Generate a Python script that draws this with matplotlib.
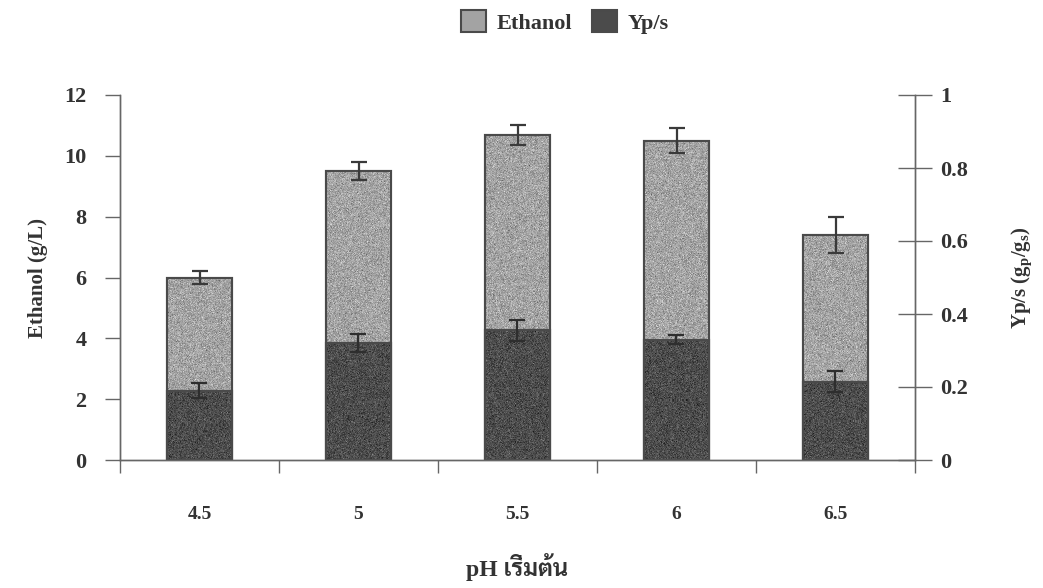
import matplotlib
matplotlib.use("Agg")
import matplotlib.pyplot as plt
import numpy as np

# Initial pH of the fermentation and the measured responses
ph_labels = ["4.5", "5", "5.5", "6", "6.5"]
ethanol = [6.0, 9.5, 10.7, 10.5, 7.4]          # g/L
ethanol_err = [0.2, 0.3, 0.33, 0.4, 0.6]
yps = [0.19, 0.32, 0.355, 0.33, 0.215]         # g_p/g_s
yps_err = [0.02, 0.025, 0.028, 0.013, 0.03]

serif = ["Liberation Serif", "Sarabun", "Noto Sans Thai", "DejaVu Sans"]
plt.rcParams["font.family"] = serif
plt.rcParams["font.weight"] = "bold"
plt.rcParams["axes.labelweight"] = "bold"
plt.rcParams["mathtext.fontset"] = "custom"
plt.rcParams["mathtext.rm"] = "Liberation Serif:bold"
plt.rcParams["mathtext.it"] = "Liberation Serif:bold"
plt.rcParams["mathtext.bf"] = "Liberation Serif:bold"

text_col = "#333333"
axis_col = "#666666"
light = "#a3a3a3"
dark = "#4b4b4b"
edge = "#4a4a4a"

fig = plt.figure(figsize=(10.43, 5.88), dpi=100)
ax = fig.add_axes([120 / 1043, 1 - 460 / 588, 795 / 1043, 365 / 588])
ax2 = ax.twinx()

x = np.arange(len(ph_labels)) + 0.5
w = 0.41
rng = np.random.default_rng(7)


def stipple(axis, bars, base, spread, ymax):
    """Fill each bar with a fine speckled grey texture clipped to its outline."""
    for p in bars.patches:
        x0, y0 = p.get_x(), p.get_y()
        bw, bh = p.get_width(), p.get_height()
        rows = max(int(bh / ymax * 365), 2)
        grain = np.clip(rng.normal(base, spread, (rows, 66)), 0, 1)
        im = axis.imshow(grain, cmap="gray", vmin=0, vmax=1, aspect="auto",
                         extent=(x0, x0 + bw, y0, y0 + bh), interpolation="nearest",
                         zorder=2.05)
        im.set_clip_path(p)


b1 = ax.bar(x, ethanol, w, color=light, edgecolor=edge, linewidth=1.5, zorder=2,
            label="Ethanol")
stipple(ax, b1, 0.64, 0.07, 12)
ax.bar(x, ethanol, w, color="none", edgecolor=edge, linewidth=1.5, zorder=2.1)
ax.errorbar(x, ethanol, yerr=ethanol_err, fmt="none", ecolor="#3a3a3a",
            elinewidth=1.6, capsize=6, capthick=1.6, zorder=3)

b2 = ax2.bar(x, yps, w, color=dark, edgecolor=edge, linewidth=1.5, zorder=2,
             label="Yp/s")
stipple(ax2, b2, 0.30, 0.06, 1)
ax2.bar(x, yps, w, color="none", edgecolor=edge, linewidth=1.5, zorder=2.1)
ax2.errorbar(x, yps, yerr=yps_err, fmt="none", ecolor="#2e2e2e",
             elinewidth=1.6, capsize=6, capthick=1.6, zorder=3)

ax.set_xlim(0, len(ph_labels))
ax.set_ylim(0, 12)
ax2.set_ylim(0, 1)
ax.set_yticks(np.arange(0, 13, 2))
ax2.set_yticks([0, 0.2, 0.4, 0.6, 0.8, 1.0])
ax2.set_yticklabels(["0", "0.2", "0.4", "0.6", "0.8", "1"])

# category boundaries get ticks, category centres get labels
ax.set_xticks(np.arange(0, len(ph_labels) + 1))
ax.set_xticklabels([])
ax.set_xticks(x, minor=True)
ax.set_xticklabels(ph_labels, minor=True)
ax.tick_params(axis="x", which="major", direction="out", length=9, width=1, color=axis_col)
ax.tick_params(axis="x", which="minor", length=0, pad=33, labelsize=14, labelcolor=text_col)
ax.tick_params(axis="y", direction="out", length=11, width=1, color=axis_col,
               labelsize=16, labelcolor=text_col, pad=13)
ax2.tick_params(axis="y", direction="inout", length=24, width=1, color=axis_col,
                labelsize=16, labelcolor=text_col, pad=6)

for a in (ax, ax2):
    a.spines["top"].set_visible(False)
    for s in ("left", "right", "bottom"):
        a.spines[s].set_color(axis_col)
        a.spines[s].set_linewidth(1)
    a.set_facecolor("none")

ax.set_ylabel("Ethanol (g/L)", fontsize=15, color=text_col, labelpad=12)
ax2.set_ylabel("Yp/s (g$_\\mathrm{p}$/g$_\\mathrm{s}$)", fontsize=15, color=text_col,
               labelpad=30)
ax.set_xlabel("pH เริ่มต้น", fontsize=17, color=text_col, labelpad=22)

fig.legend(handles=[b1, b2], labels=["Ethanol", "Yp/s"], loc="center",
           bbox_to_anchor=(565 / 1043, 1 - 22 / 588), ncol=2, frameon=False,
           prop={"size": 16, "weight": "bold"}, handlelength=1.1, handleheight=1.1,
           handletextpad=0.5, columnspacing=0.9, labelcolor=text_col)

fig.savefig("out.png", dpi=100)
